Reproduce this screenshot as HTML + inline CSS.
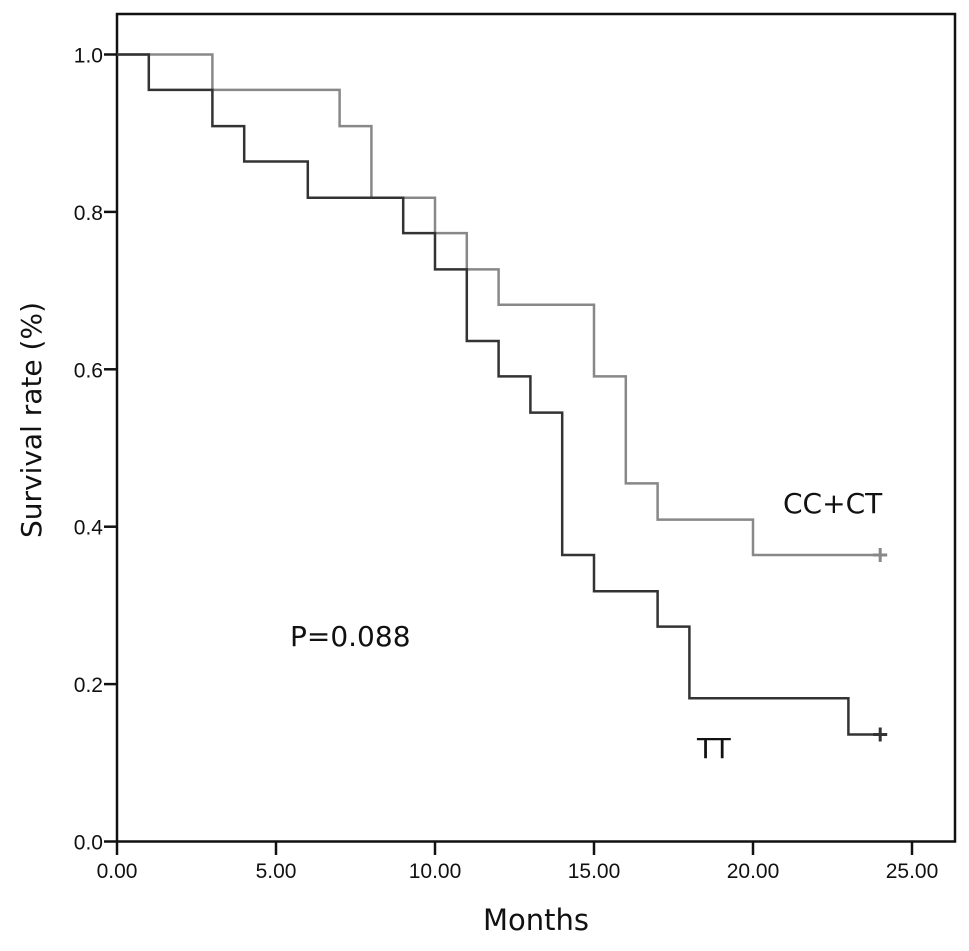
<!DOCTYPE html>
<html><head><meta charset="utf-8"><style>
body{margin:0;background:#fff;}
svg text{font-family:"DejaVu Sans","Liberation Sans",sans-serif;fill:#111;}
svg text.tick{font-family:"Liberation Sans",sans-serif;}
</style></head><body>
<svg width="969" height="946" xmlns="http://www.w3.org/2000/svg">
<g id="g"></g>
</svg>
<script>
const xTicks=[0,5,10,15,20,25];
const xTickLabels=["0.00","5.00","10.00","15.00","20.00","25.00"];
const yTicks=[0,0.2,0.4,0.6,0.8,1.0];
const yTickLabels=["0.0","0.2","0.4","0.6","0.8","1.0"];
const ttTimes=[0,1,3,4,6,9,10,11,12,13,14,15,17,18,23,24];
const ttSurv=[1,0.955,0.909,0.864,0.818,0.773,0.727,0.636,0.591,0.545,0.364,0.318,0.273,0.182,0.136,0.136];
const ccTimes=[0,3,7,8,10,11,12,15,16,17,20,24];
const ccSurv=[1,0.955,0.909,0.818,0.773,0.727,0.682,0.591,0.455,0.409,0.364,0.364];
const X=v=>117+v*31.8, Y=v=>841.5-v*787;
const NS="http://www.w3.org/2000/svg", g=document.getElementById('g');
function mk(t,a){const e=document.createElementNS(NS,t);for(const k in a)e.setAttribute(k,a[k]);g.appendChild(e);return e;}
let e=mk('rect',{x:117,y:14,width:838,height:827.5,fill:'none',stroke:'#111','stroke-width':2.5});

xTicks.forEach((v,i)=>{
 let t=mk('line',{x1:X(v),x2:X(v),y1:841,y2:855,stroke:'#111','stroke-width':2.5});
 
 let l=mk('text',{x:X(v),y:878,'text-anchor':'middle','font-size':21,'class':'tick'});l.textContent=xTickLabels[i];
 
});
yTicks.forEach((v,i)=>{
 let t=mk('line',{x1:104,x2:117,y1:Y(v),y2:Y(v),stroke:'#111','stroke-width':2.5});
 
 let l=mk('text',{x:103,y:Y(v)+8,'text-anchor':'end','font-size':21,'class':'tick'});l.textContent=yTickLabels[i];
 
});
function curve(ts,ss,col,name){
 let d='M'+X(ts[0])+','+Y(ss[0]);
 for(let i=1;i<ts.length;i++){d+=' H'+X(ts[i])+' V'+Y(ss[i]);}
 let p=mk('path',{d:d,fill:'none',stroke:col,'stroke-width':2.5});
 
 const lx=X(ts[ts.length-1]),ly=Y(ss[ss.length-1]);
 let c=mk('path',{d:`M${lx-7},${ly}H${lx+7}M${lx},${ly-7}V${ly+7}`,stroke:col,'stroke-width':3});
 
}
curve(ccTimes,ccSurv,'#888','cc-ct');
curve(ttTimes,ttSurv,'#333','tt');
function txt(s,a,n){let t=mk('text',a);t.textContent=s;}
txt('Months',{x:536,y:930,'text-anchor':'middle','font-size':29},'x-axis-title');
txt('Survival  rate (%)',{x:0,y:0,'text-anchor':'middle','font-size':28,transform:'translate(41,420) rotate(-90)'},'y-axis-title');
txt('CC+CT',{x:783,y:513,'font-size':28},'cc-ct-label');
txt('TT',{x:697,y:758,'font-size':28},'tt-label');
txt('P=0.088',{x:290,y:646,'font-size':28},'p-value');
</script>
</body></html>
